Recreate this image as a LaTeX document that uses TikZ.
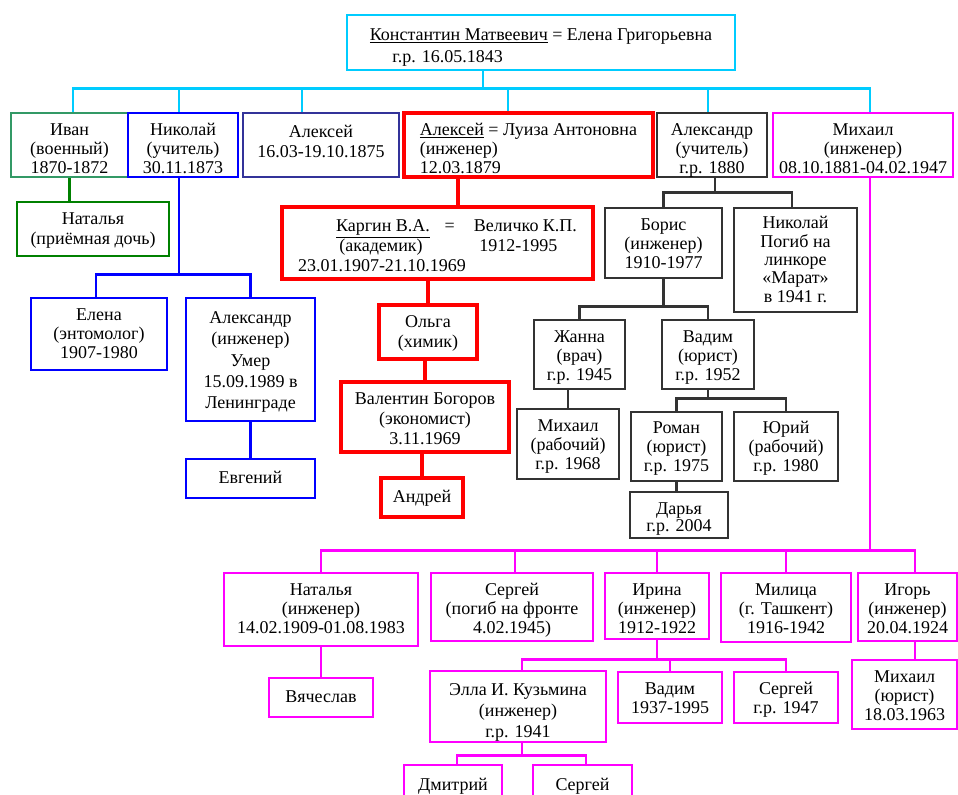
\documentclass[tikz,border=0pt]{standalone}
\usepackage{fontspec}
\setmainfont{Liberation Serif}

\definecolor{famsky}{RGB}{0,204,255}
\definecolor{famsea}{RGB}{51,153,102}
\definecolor{famgreen}{RGB}{0,128,0}
\definecolor{famblue}{RGB}{0,0,255}
\definecolor{famnavy}{RGB}{51,51,153}
\definecolor{famred}{RGB}{255,0,0}
\definecolor{famgray}{RGB}{51,51,51}
\definecolor{fammag}{RGB}{255,0,255}

\def\toppad{17pt}
\def\boxh{40}
\def\nrows{3}
\def\lskip{14.3pt}

\begin{document}
\begin{tikzpicture}
    [x=0.75pt,y=-0.75pt,
     every node/.style={rectangle,align=center,inner sep=0pt,font=\fontsize{13.5}{\lskip}\selectfont},
     wh/.style 2 args={minimum width=#1*0.75pt,minimum height=#2*0.75pt,
       /utils/exec={\def\boxh{#2}},
       text height=\toppad+(\nrows-1)*\lskip,
       text depth=\boxh*0.75pt-\toppad-(\nrows-1)*\lskip},
     toppad/.code={\def\toppad{#1}},
     rows/.code={\def\nrows{#1}},
     spread/.code={\def\lskip{#1}},
     skybox/.style={draw=famsky,line width=2.2pt},
     seabox/.style={draw=famsea,line width=2.2pt},
     greenbox/.style={draw=famgreen,line width=2.2pt},
     bluebox/.style={draw=famblue,line width=2.2pt},
     navybox/.style={draw=famnavy,line width=2.2pt},
     redbox/.style={draw=famred,line width=3.5pt},
     graybox/.style={draw=famgray,line width=2.2pt},
     magbox/.style={draw=fammag,line width=2.2pt},
     skyline/.style={famsky,line width=2.2pt},
     greenline/.style={famgreen,line width=2.2pt},
     blueline/.style={famblue,line width=2.2pt},
     redline/.style={famred,line width=3.5pt},
     grayline/.style={famgray,line width=2.2pt},
     magline/.style={fammag,line width=2.2pt}]
    \useasboundingbox (0,0) rectangle (958,794);
    \clip (0,0) rectangle (958,794);
    \fill[white] (0,0) rectangle (958,794);

    % parents
    \node[skybox, wh={388}{55}, rows=2, toppad=19pt, spread=16.5pt, align=left] (top) at (541,42.5)
      {\underline{Константин Матвеевич} = Елена Григорьевна\\ \hspace*{17pt}г.р. 16.05.1843};

    % their children
    \node[seabox, wh={117}{64}] (ivan) at (69.5,145) {Иван\\(военный)\\1870-1872};
    \node[bluebox, wh={110}{64}] (nikolai) at (183,145) {Николай\\(учитель)\\30.11.1873};
    \node[navybox, wh={156}{64}, rows=2, toppad=18pt, spread=15pt] (alexei) at (321,145) {Алексей\\16.03-19.10.1875};
    \node[redbox, wh={249}{64}, align=left] (alexeyL) at (528.5,145)
      {\underline{Алексей} = Луиза Антоновна\\(инженер)\\12.03.1879};
    \node[graybox, wh={110}{64}] (alexandr) at (712,145) {Александр\\(учитель)\\г.р. 1880};
    \node[magbox, wh={180}{64}] (mikhail) at (863,145) {Михаил\\(инженер)\\08.10.1881-04.02.1947};

    % Ivan, Nikolai
    \node[greenbox, wh={152}{54}, rows=2, spread=15pt] (natalya) at (93,229) {Наталья\\(приёмная дочь)};
    \node[bluebox, wh={136}{72}] (elena) at (99,334) {Елена\\(энтомолог)\\1907-1980};
    \node[bluebox, wh={129}{123}, rows=5, toppad=19pt, spread=16pt] (alexandrE) at (250.5,359.5)
      {Александр\\(инженер)\\Умер\\15.09.1989 в\\Ленинграде};
    \node[bluebox, wh={129}{39}, rows=1, toppad=18pt] (evgeniy) at (250.5,478.5) {Евгений};

    % Alexei and Luiza
    \node[redbox, wh={311}{72}, toppad=18.5pt, spread=15pt, align=left] (kargin) at (437.5,243)
      {\hspace*{28.5pt}\rlap{\underline{Каргин В.А.}}\hspace*{81.5pt}\rlap{=}\hspace*{22pt}Величко К.П.\\
       \hspace*{31pt}\rlap{(академик)}\hspace*{105pt}1912-1995\\
       23.01.1907-21.10.1969};
    \node[redbox, wh={98}{54}, rows=2, spread=15pt] (olga) at (428,332) {Ольга\\(химик)};
    \node[redbox, wh={168}{70}, spread=15pt] (valentin) at (425,417) {Валентин Богоров\\(экономист)\\3.11.1969};
    \node[redbox, wh={82}{39}, rows=1, toppad=18.5pt] (andrey) at (422,497.5) {Андрей};

    % Alexandr
    \node[graybox, wh={117}{70}] (boris) at (663.5,243) {Борис\\(инженер)\\1910-1977};
    \node[graybox, wh={123}{104}, rows=5, toppad=15.5pt, spread=13.8pt] (nikolaiP) at (795.5,260)
      {Николай\\Погиб на\\линкоре\\«Марат»\\в 1941 г.};
    \node[graybox, wh={91}{69}] (zhanna) at (579.5,354.5) {Жанна\\(врач)\\г.р. 1945};
    \node[graybox, wh={92}{69}] (vadim) at (708,354.5) {Вадим\\(юрист)\\г.р. 1952};
    \node[graybox, wh={102}{70}] (mikhailR) at (568,444) {Михаил\\(рабочий)\\г.р. 1968};
    \node[graybox, wh={91}{69}, toppad=16pt] (roman) at (676.5,446.5) {Роман\\(юрист)\\г.р. 1975};
    \node[graybox, wh={104}{69}, toppad=16pt] (yuri) at (786,446.5) {Юрий\\(рабочий)\\г.р. 1980};
    \node[graybox, wh={98}{46}, rows=2, toppad=16.5pt, spread=13pt] (darya) at (679,515) {Дарья\\г.р. 2004};

    % Mikhail
    \node[magbox, wh={194}{73}] (natalyaM) at (321,609.5) {Наталья\\(инженер)\\14.02.1909-01.08.1983};
    \node[magbox, wh={162}{68}] (sergeiF) at (512,607) {Сергей\\(погиб на фронте\\4.02.1945)};
    \node[magbox, wh={104}{66}] (irina) at (657,606) {Ирина\\(инженер)\\1912-1922};
    \node[magbox, wh={130}{69}] (militsa) at (786,607.5) {Милица\\(г. Ташкент)\\1916-1942};
    \node[magbox, wh={99}{68}] (igor) at (907.5,607) {Игорь\\(инженер)\\20.04.1924};
    \node[magbox, wh={104}{39}, rows=1, toppad=18pt] (vyacheslav) at (321,697.5) {Вячеслав};
    \node[magbox, wh={176}{71}, toppad=18.5pt, spread=15.5pt] (ella) at (518,706.5) {Элла И. Кузьмина\\(инженер)\\г.р. 1941};
    \node[magbox, wh={104}{51}, rows=2] (vadimM) at (670,697.5) {Вадим\\1937-1995};
    \node[magbox, wh={104}{51}, rows=2] (sergeiM) at (786,697.5) {Сергей\\г.р. 1947};
    \node[magbox, wh={105}{69}] (mikhailJ) at (904.5,694.5) {Михаил\\(юрист)\\18.03.1963};
    \node[magbox, wh={98}{60}, rows=1, toppad=19pt] (dmitriy) at (453,795) {Дмитрий};
    \node[magbox, wh={99}{60}, rows=1, toppad=19pt] (sergeiD) at (582.5,795) {Сергей};

    % lines
    \draw[skyline] (top.south) ++(-58,0) -- ++(0,17) coordinate (b0);
    \foreach \n/\dx in {ivan/3.5, nikolai/-4, alexei/-19, alexeyL/-20.5, alexandr/-4, mikhail/7}
      \draw[skyline] (\n.north) ++(\dx,0) |- (b0);

    \draw[greenline] (ivan.south) -- (ivan.south |- natalya.north);

    \draw[blueline] (nikolai.south) ++(-4,0) -- ++(0,96) coordinate (b1);
    \foreach \n/\dx in {elena/-3, alexandrE/0}
      \draw[blueline] (\n.north) ++(\dx,0) |- (b1);
    \draw[blueline] (alexandrE) -- (evgeniy);

    \draw[redline] (alexeyL.south) ++(-70.5,0) coordinate (r0) -- (r0 |- kargin.north);
    \draw[redline] (olga.north) -- (olga.north |- kargin.south);
    \draw[redline] (valentin.north) -- (valentin.north |- olga.south);
    \draw[redline] (andrey.north) -- (andrey.north |- valentin.south);

    \draw[grayline] (alexandr.south) ++(3,0) -- ++(0,14) coordinate (b2);
    \foreach \n/\dx in {boris/0, nikolaiP/-3.5}
      \draw[grayline] (\n.north) ++(\dx,0) |- (b2);
    \draw[grayline] (boris.south) -- ++(0,27) coordinate (b3);
    \foreach \n in {zhanna, vadim}
      \draw[grayline] (\n.north) |- (b3);
    \draw[grayline] (mikhailR.north) -- (mikhailR.north |- zhanna.south);
    \draw[grayline] (vadim.south) -- ++(0,8) coordinate (b4);
    \foreach \n in {roman, yuri}
      \draw[grayline] (\n.north) |- (b4);
    \draw[grayline] (roman.south) -- (roman.south |- darya.north);

    \draw[magline] (mikhail.south) ++(7,0) -- ++(0,372) coordinate (b5);
    \foreach \n/\dx in {natalyaM/0, sergeiF/3, irina/0, militsa/0, igor/7.5}
      \draw[magline] (\n.north) ++(\dx,0) |- (b5);
    \draw[magline] (natalyaM) -- (vyacheslav);
    \draw[magline] (irina.south) -- ++(0,19) coordinate (b6);
    \foreach \n/\dx in {ella/4, vadimM/0, sergeiM/0}
      \draw[magline] (\n.north) ++(\dx,0) |- (b6);
    \draw[magline] (igor.south) ++(7.5,0) coordinate (g0) -- (g0 |- mikhailJ.north);
    \draw[magline] (ella.south) ++(4,0) -- ++(0,12) coordinate (b7);
    \foreach \n/\dx in {dmitriy/4, sergeiD/3.5}
      \draw[magline] (\n.north) ++(\dx,0) |- (b7);
\end{tikzpicture}
\end{document}
